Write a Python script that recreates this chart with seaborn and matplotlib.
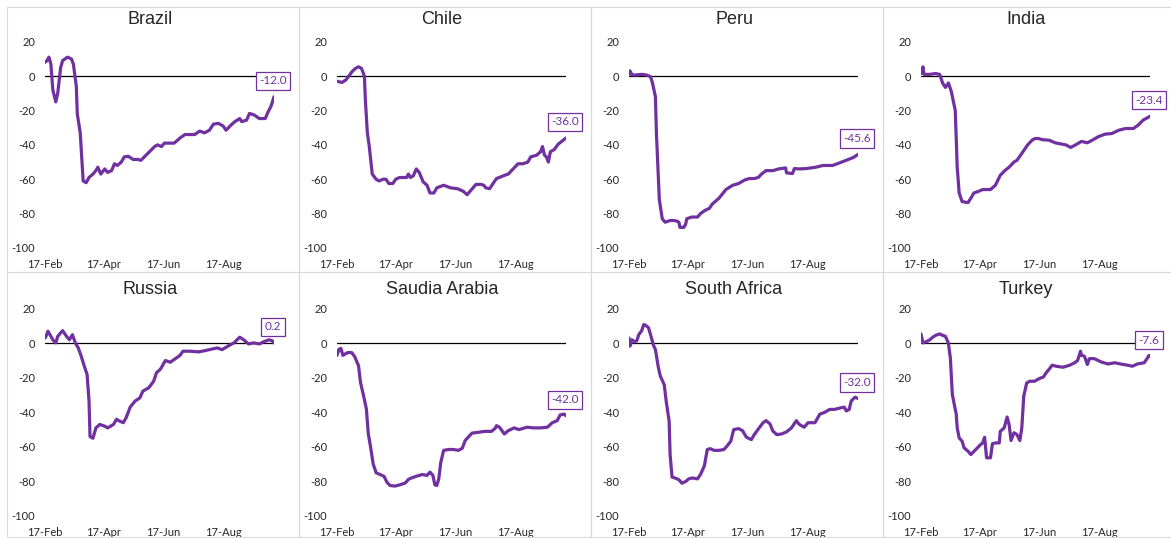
import pandas as pd
import seaborn as sns
import matplotlib
matplotlib.use("Agg")
import matplotlib.pyplot as plt
import matplotlib.dates as mdates
from matplotlib.patches import Rectangle

# mobility change (% vs baseline)
# days are counted from 17-Feb-2020
brazil_days = [0, 2, 4, 6, 8, 11, 13, 16, 18, 23, 27, 29, 32, 33, 36, 39, 42, 45, 49, 52, 54, 57, 61, 64, 68, 71, 74,
               78, 81, 85, 90, 95, 98, 105, 112, 115, 119, 122, 127, 132, 138, 143, 148, 153, 158, 163, 168, 172, 177,
               182, 185, 190, 194, 199, 201, 206, 209, 214, 219, 225, 228, 231, 234]
brazil_vals = [8, 9, 11, 7, -8, -15, -10, 5, 9, 11, 10, 7, -6, -22, -33, -61, -62, -59, -57, -55, -53, -57, -54, -56,
               -55, -51, -52, -50, -47, -46.6, -48.5, -48.5, -49, -45, -41, -40, -41, -39, -39, -39, -36, -34, -34, -34,
               -32, -33, -31.5, -28, -27.5, -29, -31.5, -28.5, -26.5, -24.7, -26.5, -25.6, -21.7, -22.7, -24.7, -24.7,
               -20.8, -17.5, -12.0]

chile_days = [0, 5, 9, 12, 16, 19, 22, 25, 28, 29, 31, 33, 36, 40, 43, 47, 50, 53, 57, 60, 64, 71, 73, 75, 78, 81, 84,
              88, 92, 95, 99, 102, 109, 116, 123, 129, 133, 136, 142, 147, 150, 152, 156, 160, 163, 170, 175, 180, 185,
              190, 195, 198, 204, 208, 210, 212, 214, 216, 218, 222, 226, 234]
chile_vals = [-3, -3.7, -2.3, 0, 3, 4.5, 5.4, 4.5, 0, -14, -33, -41, -57, -60, -61, -60, -60, -62.5, -62.5, -60, -59,
              -59, -57, -59, -58, -54, -56, -61.5, -63.5, -68, -68, -65, -63.5, -65, -65.5, -67, -69, -67, -63, -63,
              -63.5, -65, -65.5, -62, -59.6, -58, -57, -54, -51, -51, -50, -47, -46, -44, -41, -46, -47, -50, -44,
              -42.7, -39.6, -36.0]

peru_days = [0, 1, 3, 6, 13, 18, 22, 24, 27, 28, 31, 34, 37, 42, 46, 49, 51, 52, 56, 58, 59, 64, 70, 73, 78, 82, 85,
             92, 99, 106, 112, 118, 123, 128, 132, 136, 140, 147, 153, 160, 161, 167, 169, 174, 181, 191, 198, 208, 215,
             222, 229, 234]
peru_vals = [1, 3, 0.8, 0.6, 1, 0.6, -0.4, -4, -12, -33, -72, -83, -85, -84, -84, -84.4, -85, -88, -88, -86, -83, -82,
             -82, -80, -78, -77, -74.5, -71, -66, -63.5, -62.5, -60.5, -59.6, -59.6, -59, -56.7, -55, -55, -54, -53.4,
             -56.3, -56.7, -53.8, -54, -53.8, -53, -52, -52, -50.5, -49, -47.4, -45.6]

india_days = [0, 2, 3, 9, 15, 19, 20, 22, 25, 28, 31, 35, 37, 39, 42, 48, 51, 54, 59, 63, 66, 71, 76, 81, 86, 90, 95,
              98, 103, 109, 114, 117, 120, 124, 131, 137, 144, 148, 153, 158, 164, 170, 175, 181, 188, 195, 202, 209,
              217, 222, 227, 234]
india_vals = [1.5, 5.4, 1, 1, 1.5, 1, -0.4, -4, -6.6, -4, -9, -20, -53, -68, -73, -73.6, -71, -68, -67, -66, -66, -66,
              -63.5, -57.7, -54.8, -53, -50, -49, -45, -40, -37, -36.3, -36.3, -37, -37.3, -38.8, -39.6, -40, -41.5,
              -40, -38, -38.8, -37.3, -35.3, -33.8, -33.4, -31.5, -30.5, -30.5, -28.5, -25.6, -23.4]

russia_days = [0, 1, 3, 6, 8, 11, 13, 16, 18, 22, 25, 28, 31, 34, 37, 40, 43, 45, 46, 49, 52, 56, 61, 64, 70, 73, 76,
               80, 83, 87, 92, 97, 100, 106, 111, 114, 118, 123, 128, 133, 138, 141, 148, 157, 164, 171, 176, 181, 188,
               193, 199, 203, 208, 213, 219, 224, 229, 232, 234]
russia_vals = [3, 4, 7, 4, 2, 0.2, 4, 6, 7.3, 4, 2, 5, 0.2, -2.7, -7.5, -13, -18, -33.5, -54, -55, -49, -47, -48, -49,
               -47, -44, -45, -46, -43, -37, -33.5, -31.6, -27.7, -25.8, -22, -17, -15, -10, -11, -9, -7, -4.6, -4.6,
               -5, -4.2, -3.3, -2.7, -3.7, -1.3, 0.2, 3.5, 2, -0.4, 0.2, -0.4, 1, 2, 1.5, 0.2]

saudi_days = [0, 2, 4, 6, 8, 11, 15, 18, 22, 24, 27, 30, 32, 34, 37, 40, 44, 48, 51, 54, 59, 64, 70, 73, 76, 81, 87,
              92, 95, 98, 100, 102, 104, 106, 109, 114, 119, 124, 128, 131, 134, 138, 145, 151, 158, 162, 163, 166,
              171, 175, 181, 186, 194, 201, 208, 215, 220, 225, 228, 232, 234]
saudi_vals = [-7, -3.5, -3, -7, -6.3, -5.4, -5.4, -7.7, -13, -22.7, -30, -38, -52.5, -59, -70, -75, -76, -77, -80.4,
              -82.3, -82.7, -82, -80.8, -78.8, -78, -77, -76, -76.5, -74.6, -76.5, -82, -82.3, -78.5, -69, -62, -61.5,
              -61.5, -62, -60.8, -56.3, -54.4, -52, -51.5, -51, -51, -49, -47.7, -48.6, -52.5, -50.6, -49, -50, -48.6,
              -49, -49, -48.6, -46, -44.8, -41.5, -41, -42.0]

safrica_days = [0, 1, 3, 6, 8, 10, 13, 15, 17, 20, 23, 25, 27, 30, 32, 36, 38, 41, 42, 44, 47, 51, 54, 58, 61, 65, 70,
                73, 77, 80, 83, 87, 92, 97, 100, 104, 107, 112, 116, 120, 125, 128, 133, 137, 140, 144, 147, 151, 156,
                161, 166, 171, 174, 179, 183, 190, 195, 200, 205, 210, 217, 220, 222, 225, 227, 231, 234]
safrica_vals = [3, -1.7, 2, 0.8, 1.5, 5, 7.3, 10.8, 10.4, 8.9, 3, -1.2, -3.7, -14, -19, -24, -33.5, -45, -64.5, -77.5,
                -78, -79, -81, -80, -78.5, -78, -78.5, -76, -71, -61.5, -61, -62, -62, -61.5, -59.6, -56.7, -50, -49.4,
                -50.6, -54.4, -55.8, -52.9, -49, -46, -44.8, -46.6, -50.8, -52.9, -52.5, -51.3, -49, -44.8, -47, -48.6,
                -46, -46, -41, -40, -38.3, -38.3, -37.3, -37, -39.2, -38.3, -33.5, -31.2, -32.0]

turkey_days = [0, 2, 5, 9, 12, 15, 19, 22, 25, 28, 30, 32, 34, 36, 37, 39, 42, 44, 48, 51, 56, 61, 63, 65, 67, 71, 73,
               76, 80, 81, 85, 88, 90, 92, 95, 98, 101, 103, 105, 108, 111, 116, 121, 125, 128, 131, 134, 138, 145, 152,
               157, 160, 163, 164, 167, 170, 172, 177, 184, 191, 198, 204, 211, 216, 221, 228, 231, 233, 234]
turkey_vals = [5.4, 0.2, 0.8, 2, 3.5, 4.6, 5.4, 4.6, 4, 0, -8.5, -29.6, -35.4, -41, -49, -54.8, -56.7, -60.5, -62.5,
               -64.4, -61.5, -58.6, -57.7, -54.4, -66.3, -66.3, -58.2, -57.7, -57.7, -51, -49, -42.7, -47, -56.3, -51.8,
               -52.8, -56.3, -49, -30.6, -23, -22, -22, -20.4, -19.6, -17, -15, -12.7, -13.3, -13.9, -12.7, -11.3, -10,
               -4.6, -7, -7.5, -12.3, -8.9, -8.9, -10.8, -12, -11.3, -12, -12.7, -13.3, -12, -11.3, -8.9, -7, -7.6]

countries = ["Brazil", "Chile", "Peru", "India", "Russia", "Saudia Arabia", "South Africa", "Turkey"]
all_days = [brazil_days, chile_days, peru_days, india_days, russia_days, saudi_days, safrica_days, turkey_days]
all_vals = [brazil_vals, chile_vals, peru_vals, india_vals, russia_vals, saudi_vals, safrica_vals, turkey_vals]

y_ticks = [-100, -80, -60, -40, -20, 0, 20]
x_ticks = ["2020-02-17", "2020-04-17", "2020-06-17", "2020-08-17"]

sns.set_style("white")
plt.rcParams['font.family'] = ['Lato', 'DejaVu Sans']
plt.rcParams['axes.unicode_minus'] = False

W, H = 1171, 538
purple = "#7030A0"
fig = plt.figure(figsize=(W / 100, H / 100), dpi=100)

start = pd.Timestamp("2020-02-17")
end = start + pd.Timedelta(days=234)

# pixel layout of the Excel chart grid
row_top = [7, 272]
row_h = 265
ax_top = [41.7, 308.7]
ax_bot = [248, 516]
title_y = [20, 289]

for i, name in enumerate(countries):
    row, col = divmod(i, 4)
    px = 7 + col * 292
    py = row_top[row]
    fig.add_artist(Rectangle((px / W, 1 - (py + row_h) / H), 292 / W, row_h / H,
                             transform=fig.transFigure, fill=False, edgecolor="#d9d9d9", lw=0.8))

    ax = fig.add_axes([(px + 38) / W, 1 - ax_bot[row] / H, 229 / W, (ax_bot[row] - ax_top[row]) / H])
    ax.patch.set_alpha(0)

    dates = start + pd.to_timedelta(all_days[i], unit="D")
    df = pd.DataFrame({"date": dates, "value": all_vals[i]})
    ax.axhline(0, color="black", lw=0.9, zorder=1)
    sns.lineplot(data=df, x="date", y="value", ax=ax, color=purple, lw=2.3, zorder=3)

    ax.set_xlim(start, end)
    ax.set_ylim(-100, 20)
    ax.set_yticks(y_ticks)
    ax.set_xticks(pd.to_datetime(x_ticks))
    ax.xaxis.set_major_formatter(mdates.DateFormatter("%d-%b"))
    ax.tick_params(axis="both", length=0, labelsize=8, colors="#262626")
    ax.tick_params(axis="x", pad=8)
    ax.tick_params(axis="y", pad=7)
    for s in ax.spines.values():
        s.set_visible(False)
    ax.set_xlabel("")
    ax.set_ylabel("")

    last = all_vals[i][-1]
    ax.annotate(f"{last:.1f}", xy=(dates[-1], last), xytext=(-1, 16), textcoords="offset pixels",
                ha="center", va="center", fontsize=8.5, color=purple,
                bbox=dict(boxstyle="square,pad=0.3", fc="white", ec=purple, lw=0.9), zorder=5)

    fig.text((px + 143) / W, 1 - title_y[row] / H, name, ha="center", va="center",
             fontsize=13, family=["Liberation Sans", "DejaVu Sans"])

fig.savefig("out.png", dpi=100)
